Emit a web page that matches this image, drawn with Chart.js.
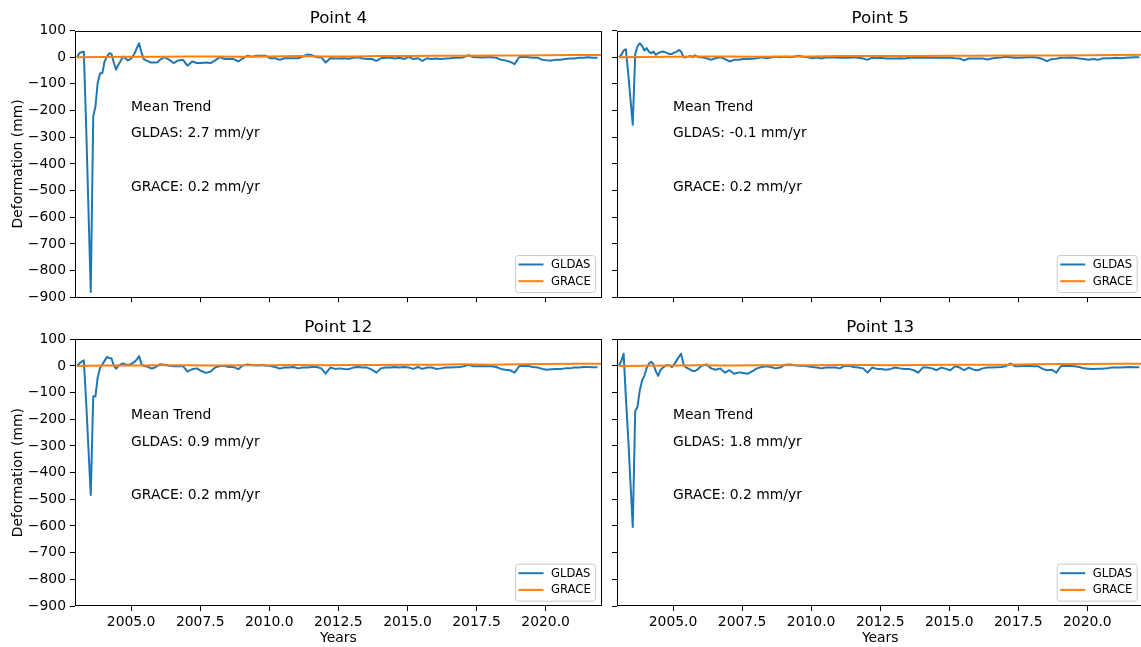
<!DOCTYPE html>
<html>
<head>
<meta charset="utf-8">
<title>Deformation: GLDAS vs GRACE</title>
<script src="https://cdn.jsdelivr.net/npm/chart.js@4.4.1/dist/chart.umd.min.js"></script>
<style>
  html, body { margin: 0; padding: 0; background: #fff; }
  body { width: 1141px; height: 647px; overflow: hidden; position: relative; }
  canvas { position: absolute; }
</style>
</head>
<body>
<canvas id="p4" width="620" height="310" style="left:0;top:0"></canvas>
<canvas id="p5" width="545" height="310" style="left:607px;top:0"></canvas>
<canvas id="p12" width="620" height="337" style="left:0;top:310px"></canvas>
<canvas id="p13" width="545" height="337" style="left:607px;top:310px"></canvas>
<script>
const FONT = "'DejaVu Sans', sans-serif";

// panel labels and trend text
const panelTitles = ['Point 4', 'Point 5', 'Point 12', 'Point 13'];
const gldasTrend = ['2.7', '-0.1', '0.9', '1.8'];
const graceTrend = ['0.2', '0.2', '0.2', '0.2'];

// axes
const xTicks = [2005, 2007.5, 2010, 2012.5, 2015, 2017.5, 2020];
const xMin = 2002.97, xMax = 2022.03;
const yMin = -900, yMax = 100, yStep = 100;

// GLDAS sample dates (monthly to 2005, every two months afterwards)
const gldasYears = [
  2003.04, 2003.13, 2003.21, 2003.29, 2003.38, 2003.46, 2003.54, 2003.63, 2003.71, 2003.79, 2003.88, 2003.96,
  2004.04, 2004.13, 2004.21, 2004.29, 2004.38, 2004.46, 2004.54, 2004.63, 2004.71, 2004.79, 2004.88, 2004.96,
  2005.04, 2005.13, 2005.21, 2005.29, 2005.38, 2005.46, 2005.54, 2005.63, 2005.71, 2005.79, 2005.88, 2005.96,
  2006.04, 2006.21, 2006.38, 2006.54, 2006.71, 2006.88,
  2007.04, 2007.21, 2007.38, 2007.54, 2007.71, 2007.88,
  2008.04, 2008.21, 2008.38, 2008.54, 2008.71, 2008.88,
  2009.04, 2009.21, 2009.38, 2009.54, 2009.71, 2009.88,
  2010.04, 2010.21, 2010.38, 2010.54, 2010.71, 2010.88,
  2011.04, 2011.21, 2011.38, 2011.54, 2011.71, 2011.88,
  2012.04, 2012.21, 2012.38, 2012.54, 2012.71, 2012.88,
  2013.04, 2013.21, 2013.38, 2013.54, 2013.71, 2013.88,
  2014.04, 2014.21, 2014.38, 2014.54, 2014.71, 2014.88,
  2015.04, 2015.21, 2015.38, 2015.54, 2015.71, 2015.88,
  2016.04, 2016.21, 2016.38, 2016.54, 2016.71, 2016.88,
  2017.04, 2017.21, 2017.38, 2017.54, 2017.71, 2017.88,
  2018.04, 2018.21, 2018.38, 2018.54, 2018.71, 2018.88,
  2019.04, 2019.21, 2019.38, 2019.54, 2019.71, 2019.88,
  2020.04, 2020.21, 2020.38, 2020.54, 2020.71, 2020.88,
  2021.04, 2021.21, 2021.38, 2021.54, 2021.71, 2021.88
];

const gldasP4 = [
  0, 15, 19, 20, -280, -580, -880, -222, -185, -97, -60, -60,
  -16, 2, 15, 12, -22, -47, -28, -12, 2, -4, -12, -8,
  0, 15, 35, 52, 15, -7, -12, -16, -20, -20, -20, -19,
  -10, 0, -10, -22, -12, -10,
  -32, -16, -22, -22, -20, -22,
  -12, 0, -7, -7, -7, -16,
  -4, 5, 2, 5, 5, 5,
  -4, -4, -10, -4, -4, -4,
  -4, 2, 10, 8, 0, 0,
  -20, -4, -5, -5, -4, -6,
  -2, 0, -5, -7, -7, -14,
  -4, -2, -2, -5, -2, -7,
  2, -7, -4, -14, -4, -7,
  -5, -7, -5, -4, -2, -2,
  0, 8, 0, 0, -1, 0,
  0, -2, -10, -12, -17, -26,
  0, 2, 0, -2, -2, -10,
  -12, -12, -10, -10, -7, -5,
  -5, -2, -2, 0, -2, -2
];

const gldasP5 = [
  0, 9, 25, 30, -65, -160, -253, 12, 40, 52, 42, 25,
  34, 20, 15, 21, 9, 15, 19, 21, 19, 15, 12, 12,
  17, 20, 27, 21, 0, 0, 2, 5, 0, 7, 2, 0,
  0, -4, -10, -4, 0, -7,
  -16, -10, -10, -7, -7, -6,
  -4, 0, -4, -1, 2, 0,
  2, 0, 2, 5, 2, 0,
  -4, -1, -5, 0, -1, -1,
  -2, -2, -2, 0, -2, -5,
  -10, -2, -4, -2, -5, -5,
  -5, -4, -5, -2, -2, -2,
  -2, -1, -2, -2, -2, -2,
  -2, -4, -5, -12, -5, -5,
  -5, -5, -9, -5, -2, -1,
  2, 0, -2, -2, -1, 0,
  0, -2, -7, -15, -7, -6,
  -2, -2, -1, -2, -5, -7,
  -10, -7, -10, -5, -4, -4,
  -2, -4, -2, -1, 0, 0
];

const gldasP12 = [
  0, 9, 16, 21, -147, -316, -484, -114, -114, -44, -6, 6,
  19, 34, 29, 29, 0, -10, 0, 6, 10, 6, 4, 6,
  10, 16, 25, 37, 6, 0, -1, -4, -9, -9, -4, 0,
  6, 5, 1, -1, -1, -1,
  -21, -12, -9, -19, -26, -21,
  -6, 0, 0, -4, -4, -12,
  2, 6, 4, 2, 4, 2,
  0, -4, -10, -6, -6, -4,
  -9, -6, -6, -4, -4, -9,
  -29, -6, -11, -9, -11, -12,
  -6, -4, -6, -6, -14, -25,
  -9, -6, -6, -4, -6, -4,
  -6, -11, -4, -11, -6, -6,
  -11, -9, -6, -6, -5, -4,
  -1, 4, -1, -1, 0, -1,
  -1, -4, -11, -14, -16, -25,
  -1, 1, 0, -4, -6, -11,
  -14, -12, -11, -11, -9, -9,
  -6, -6, -4, -4, -5, -5
];

const gldasP13 = [
  0, 20, 46, -116, -279, -441, -604, -169, -154, -94, -54, -37,
  -9, 9, 16, 6, -21, -37, -16, -6, 0, 4, 1, -4,
  6, 21, 34, 46, 6, -4, -9, -14, -19, -19, -14, -6,
  1, 6, -9, -14, -9, -25,
  -16, -29, -24, -26, -29, -19,
  -9, -4, -1, -4, -9, -6,
  4, 6, 4, 1, 1, -1,
  -4, -6, -9, -6, -6, -6,
  -9, 0, 1, -4, -6, -9,
  -25, -6, -11, -11, -14, -11,
  -6, -9, -11, -11, -16, -25,
  -6, -6, -9, -16, -6, -11,
  -16, -1, -6, -16, -6, -14,
  -16, -9, -6, -6, -5, -4,
  -1, 9, -1, -1, 0, 1,
  -1, -1, -11, -16, -14, -25,
  -1, 1, 0, -1, -4, -9,
  -10, -11, -10, -10, -9, -6,
  -6, -6, -5, -4, -5, -5
];

// GRACE sample dates and values
const graceYears = [2003.04, 2004, 2005, 2006, 2007, 2008, 2009, 2010, 2011, 2012,
  2013, 2014, 2015, 2016, 2017, 2018, 2019, 2020, 2021, 2022.03];
const graceP4 = [0, 1, 2, 2, 3, 3, 2, 3, 4, 3, 3, 4, 4, 5, 5, 6, 6, 7, 8, 8];
const graceP5 = [0, 1, 2, 3, 3, 2, 3, 3, 4, 4, 4, 4, 5, 5, 6, 6, 6, 7, 8, 9];
const graceP12 = [0, 2, 2, 3, 3, 2, 3, 3, 4, 3, 4, 4, 5, 5, 6, 5, 6, 7, 8, 8];
const graceP13 = [0, 1, 2, 3, 2, 3, 3, 3, 4, 4, 3, 4, 5, 5, 5, 6, 7, 7, 8, 8];

// where the "Mean Trend" text sits (data coords)
const noteX = 2005;
const noteYs = [-200, -300, -500];

const panels = [
  { id: 'p4', gldas: gldasP4, grace: graceP4, left: true, bottom: false },
  { id: 'p5', gldas: gldasP5, grace: graceP5, left: false, bottom: false },
  { id: 'p12', gldas: gldasP12, grace: graceP12, left: true, bottom: true },
  { id: 'p13', gldas: gldasP13, grace: graceP13, left: false, bottom: true }
];

const toPoints = (xs, ys) => xs.map((x, i) => ({ x: x, y: ys[i] }));
const fmtY = v => (v < 0 ? '\u2212' + Math.abs(v) : String(v));

// frame, trend text and legend box
const panelDecor = {
  id: 'panelDecor',
  afterDatasetsDraw(chart, args, opts) {
    const { ctx, chartArea: a, scales: { x, y } } = chart;
    ctx.save();
    ctx.strokeStyle = '#000';
    ctx.lineWidth = 1;
    ctx.strokeRect(Math.round(a.left) + 0.5, Math.round(a.top) + 0.5,
      Math.round(a.right - a.left) - 1, Math.round(a.bottom - a.top) - 1);

    ctx.fillStyle = '#000';
    ctx.font = '13.9px ' + FONT;
    ctx.textBaseline = 'alphabetic';
    ctx.textAlign = 'left';
    opts.notes.forEach((t, i) => {
      ctx.fillText(t, x.getPixelForValue(noteX), y.getPixelForValue(noteYs[i]));
    });

    // legend, lower right
    const bw = 80, bh = 37;
    const bx = a.right - 6.7 - bw, by = a.bottom - 5.3 - bh;
    ctx.beginPath();
    ctx.roundRect(bx + 0.5, by + 0.5, bw, bh, 3);
    ctx.fillStyle = 'rgba(255,255,255,0.8)';
    ctx.fill();
    ctx.strokeStyle = '#cccccc';
    ctx.stroke();
    ctx.font = '11.6px ' + FONT;
    ctx.textBaseline = 'middle';
    chart.data.datasets.forEach((ds, i) => {
      const ly = by + 9.5 + i * 16.7;
      ctx.beginPath();
      ctx.moveTo(bx + 3.5, ly);
      ctx.lineTo(bx + 28.5, ly);
      ctx.strokeStyle = ds.borderColor;
      ctx.lineWidth = 2;
      ctx.stroke();
      ctx.fillStyle = '#000';
      ctx.fillText(ds.label, bx + 36, ly + 0.5);
    });
    ctx.restore();
  }
};

function makePanel(p, idx) {
  const tickFont = { size: 13.9, family: FONT };
  const topPad = p.bottom ? [7.8, 1.46] : [9, 1.46];
  const canvas = document.getElementById(p.id);
  const xHeight = p.bottom ? 41 : 12.7;
  const yWidth = p.left ? 75 : 10;
  const rightPad = p.left ? 18.3 : 8.6;

  new Chart(canvas, {
    type: 'line',
    data: {
      datasets: [
        {
          label: 'GLDAS',
          data: toPoints(gldasYears, p.gldas),
          borderColor: '#1f77b4',
          borderWidth: 2,
          borderJoinStyle: 'round',
          pointRadius: 0,
          tension: 0,
          order: 1
        },
        {
          label: 'GRACE',
          data: toPoints(graceYears, p.grace),
          borderColor: '#ff7f0e',
          borderWidth: 2,
          borderJoinStyle: 'round',
          pointRadius: 0,
          tension: 0,
          order: 0
        }
      ]
    },
    options: {
      responsive: false,
      animation: false,
      events: [],
      layout: { padding: { left: 0, right: rightPad, top: 0, bottom: 0 } },
      plugins: {
        legend: { display: false },
        tooltip: { enabled: false },
        title: {
          display: true,
          text: panelTitles[idx],
          fullSize: false,
          color: '#000',
          font: { size: 16.7, family: FONT, weight: 'normal' },
          padding: { top: topPad[0], bottom: topPad[1] }
        },
        panelDecor: {
          notes: ['Mean Trend', 'GLDAS: ' + gldasTrend[idx] + ' mm/yr', 'GRACE: ' + graceTrend[idx] + ' mm/yr']
        }
      },
      scales: {
        x: {
          type: 'linear',
          min: xMin,
          max: xMax,
          afterBuildTicks: s => { s.ticks = xTicks.map(v => ({ value: v })); },
          afterFit: s => { s.height = xHeight; },
          ticks: {
            display: p.bottom,
            autoSkip: false,
            maxRotation: 0,
            color: '#000',
            font: tickFont,
            padding: 3.5,
            callback: v => Number(v).toFixed(1)
          },
          grid: { display: true, drawOnChartArea: false, drawTicks: true, tickLength: 5, tickColor: '#000', tickWidth: 1 },
          border: { display: false },
          title: {
            display: p.bottom,
            text: 'Years',
            color: '#000',
            font: tickFont,
            padding: { top: 0, bottom: 0.5 }
          }
        },
        y: {
          type: 'linear',
          min: yMin,
          max: yMax,
          afterFit: s => { s.width = yWidth; },
          ticks: {
            display: p.left,
            stepSize: yStep,
            color: '#000',
            font: tickFont,
            padding: 4,
            callback: fmtY
          },
          grid: { display: true, drawOnChartArea: false, drawTicks: true, tickLength: 5, tickColor: '#000', tickWidth: 1 },
          border: { display: false },
          title: {
            display: p.left,
            text: 'Deformation (mm)',
            color: '#000',
            font: tickFont,
            padding: { top: 10, bottom: 0 }
          }
        }
      }
    },
    plugins: [panelDecor]
  });
}

panels.forEach(makePanel);
</script>
</body>
</html>
